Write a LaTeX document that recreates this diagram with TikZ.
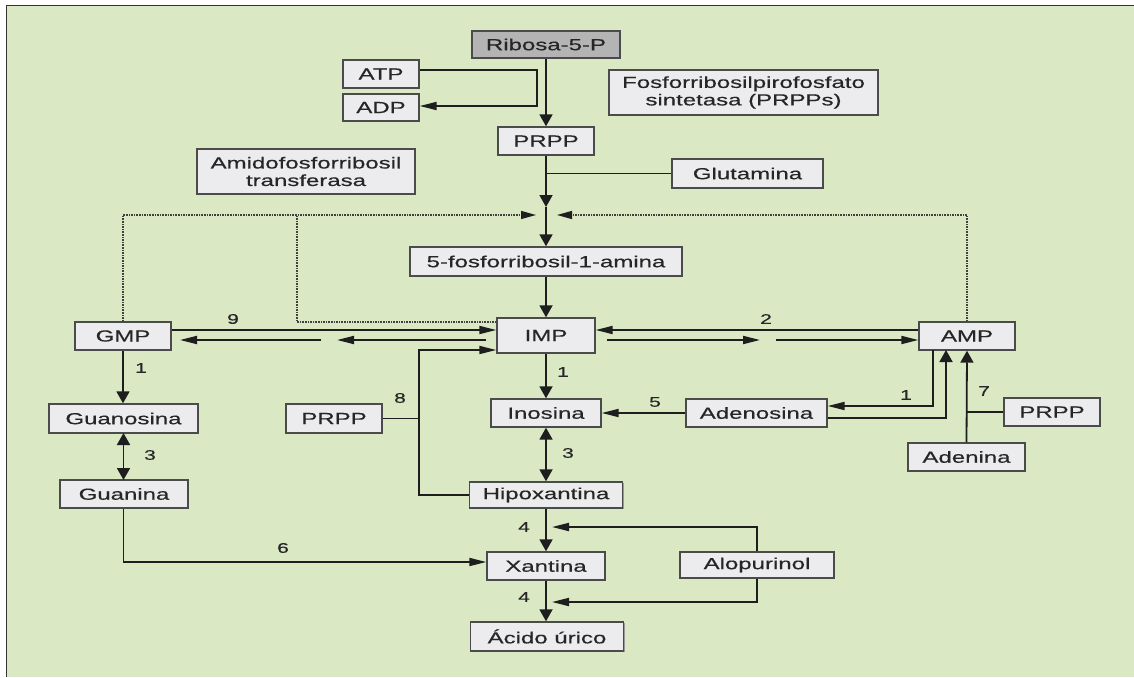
\documentclass[tikz,border=0pt]{standalone}
\usepackage{fontspec}
\setmainfont{Liberation Sans}[FakeStretch=1.5,FakeBold=0.4]
\usetikzlibrary{arrows.meta,shadows,calc}
\definecolor{bggreen}{RGB}{218,232,196}
\definecolor{boxfill}{RGB}{236,236,238}
\definecolor{ribfill}{RGB}{180,180,180}
\definecolor{linec}{RGB}{30,30,30}
\begin{document}
\begin{tikzpicture}[x=1pt,y=-1pt,
  box/.style={draw=linec!80, line width=1.4pt, fill=boxfill, inner sep=0pt, font=\fontsize{16}{17.5}\selectfont, text=black!85, align=center,
    drop shadow={shadow xshift=1.2pt, shadow yshift=-1.2pt, fill=black!40, opacity=1}},
  ln/.style={draw=linec, line width=1.8pt},
  va/.style={ln, -{Triangle[length=12pt,width=13pt]}},
  vb/.style={ln, {Triangle[length=12pt,width=13pt]}-{Triangle[length=12pt,width=13pt]}},
  ha/.style={ln, -{Triangle[length=17pt,width=8pt]}},
  dl/.style={draw=linec!85, line width=1.2pt, dash pattern=on 1.6pt off 1pt},
  da/.style={dl, -{Triangle[length=15pt,width=8pt,color=linec]}},
  lab/.style={font=\fontsize{14}{14}\selectfont, text=black!85, inner sep=0pt}
]
\useasboundingbox (0,0) rectangle (1134,677);
\fill[white] (0,0) rectangle (1134,677);
\fill[bggreen] (6,6) rectangle (1134,677);
\draw[black!80, line width=1pt] (6,677) -- (6,6) -- (1134,6);

% boxes
\node[box, fill=ribfill, minimum width=148pt, minimum height=27pt] (rib) at (546,44.5) {Ribosa-5-P};
\node[box, minimum width=76pt, minimum height=28pt] (atp) at (381,74) {ATP};
\node[box, minimum width=76pt, minimum height=27pt] (adp) at (381,107.5) {ADP};
\node[box, minimum width=96pt, minimum height=28pt] (prpp1) at (546,141) {PRPP};
\node[box, minimum width=269pt, minimum height=45pt] (fos) at (743.5,92.5) {Fosforribosilpirofosfato\\sintetasa (PRPPs)};
\node[box, minimum width=218pt, minimum height=45pt] (amido) at (306,171.5) {Amidofosforribosil\\transferasa};
\node[box, minimum width=151pt, minimum height=29pt] (glu) at (747.5,173.5) {Glutamina};
\node[box, minimum width=272pt, minimum height=29pt] (f5) at (546,261.5) {5-fosforribosil-1-amina};
\node[box, minimum width=96pt, minimum height=28pt] (gmp) at (123,336) {GMP};
\node[box, minimum width=98pt, minimum height=35pt] (imp) at (546,335.5) {IMP};
\node[box, minimum width=96pt, minimum height=28pt] (amp) at (967,336) {AMP};
\node[box, minimum width=149pt, minimum height=29pt] (guo) at (123.5,418.5) {Guanosina};
\node[box, minimum width=96pt, minimum height=29pt] (prpp2) at (334,418.5) {PRPP};
\node[box, minimum width=110pt, minimum height=28pt] (ino) at (546,413) {Inosina};
\node[box, minimum width=141pt, minimum height=28pt] (ado) at (756.5,413) {Adenosina};
\node[box, minimum width=96pt, minimum height=28pt] (prpp3) at (1052,412) {PRPP};
\node[box, minimum width=128pt, minimum height=28pt] (gua) at (124,494) {Guanina};
\node[box, minimum width=153pt, minimum height=26pt] (hip) at (546,495) {Hipoxantina};
\node[box, minimum width=117pt, minimum height=28pt] (ade) at (966.5,457) {Adenina};
\node[box, minimum width=118pt, minimum height=28pt] (xan) at (546,566) {Xantina};
\node[box, minimum width=154pt, minimum height=26pt] (alo) at (757,565) {Alopurinol};
\node[box, minimum width=153pt, minimum height=29pt] (uri) at (547,636.5) {Ácido úrico};

% top
\draw[va] (rib) -- (prpp1);
\draw[ha] (atp.east |- 0,70) -- (537,70) -- (537,106) -- (adp.east |- 0,106);
\coordinate (j) at (546,207);
\draw[va] (prpp1) -- (j);
\draw[va] (j) -- (f5);
\draw[ln] (glu.west) -- (546,173.5);
\draw[va] (f5) -- (imp);

% dotted feedback
\draw[da] (gmp.north) -- (123,215) -- (536,215);
\draw[dl] (imp.west |- 0,322) -- (297,322) -- (297,215);
\draw[da] (amp.north) -- (967,215) -- (557,215);

% GMP <-> IMP
\draw[ha] (gmp.east |- 0,330) -- (imp.west |- 0,330);
\node[lab] (l9) at (233,319) {9};
\coordinate (g1) at (486,340);
\coordinate (g2) at (337,340);
\coordinate (g3) at (321,340);
\draw[ha] (g1) -- (g2);
\draw[ha] (g3) -- (180,340);
% PRPP / Hipoxantina -> IMP
\draw[ha] (hip.west) -- (419,495) -- (419,350) -- (imp.west |- 0,350);
\draw[ln] (prpp2.east) -- (419,418.5);
\node[lab] (l8) at (400,398) {8};

% IMP <-> AMP
\draw[ha] (amp.west |- 0,330) -- (imp.east |- 0,330);
\node[lab] (l2) at (766,319) {2};
\coordinate (a1) at (607,340);
\coordinate (a2) at (760,340);
\coordinate (a3) at (776,340);
\draw[ha] (a1) -- (a2);
\draw[ha] (a3) -- (amp.west |- 0,340);

% IMP -> Inosina
\draw[va] (imp) -- (ino);
\node[lab] (l1a) at (563,372) {1};
% Adenosina -> Inosina
\draw[ha] (ado.west) -- (ino.east);
\node[lab] (l5) at (655,402) {5};
% AMP <-> Adenosina
\draw[ha] (933,350) -- (933,406) -- (ado.east |- 0,406);
\node[lab] (l1b) at (906,395) {1};
\draw[va] (ado.east |- 0,418) -- (946,418) -- (946,350);
% Adenina -> AMP
\draw[va] (ade.north) -- (amp.south);
\draw[ln] (prpp3.west) -- (967,412);
\node[lab] (l7) at (984,391) {7};

% Inosina <-> Hipoxantina
\draw[vb] (ino) -- (hip);
\node[lab] (l3a) at (568,453) {3};
% Hipoxantina -> Xantina -> Acido
\draw[va] (hip) -- (xan);
\node[lab] (l4a) at (524,527) {4};
\draw[ha] (alo.north) -- (757,527) -- (552,527);
\draw[va] (xan) -- (uri.north -| 546,0);
\node[lab] (l4b) at (524,597) {4};
\draw[ha] (alo.south) -- (757,602) -- (552,602);

% Guanine branch
\draw[va] (gmp) -- (gmp.south |- guo.north);
\node[lab] (l1c) at (141,368) {1};
\draw[vb] (123.5,433) -- (123.5,480);
\node[lab] (l3b) at (150,455) {3};
\draw[ha] (gua.south -| 123.5,0) -- (123.5,562) -- (xan.west |- 0,562);
\node[lab] (l6) at (283,548) {6};
\end{tikzpicture}
\end{document}
